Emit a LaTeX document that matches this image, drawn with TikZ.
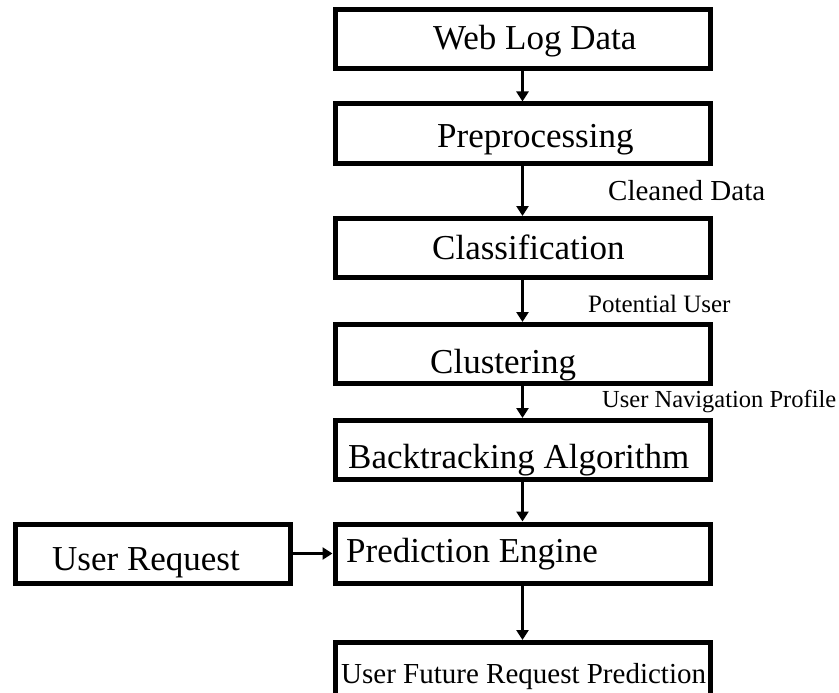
\documentclass[tikz,border=0pt]{standalone}
\usepackage{fontspec}
\setmainfont{Liberation Serif}
\usetikzlibrary{arrows.meta,positioning}

\begin{document}
\begin{tikzpicture}[x=1pt,y=-1pt,
  box/.style={draw, line width=5pt, minimum width=375pt, minimum height=59pt, inner sep=0pt},
  txt/.style={anchor=base west, inner sep=0pt, font=\fontsize{35}{40}\selectfont},
  lbl/.style={anchor=base west, inner sep=0pt, font=\fontsize{25}{28}\selectfont},
  arrow/.style={-{Triangle[length=10pt,width=12pt]}, line width=3pt}
]
  \useasboundingbox (0,0) rectangle (839,693);
  \clip (0,0) rectangle (839,693);
  % main column
  \node[box] (web) at (522.5,39) {};
  \node[box] (prep) at (522.5,133.5) {};
  \node[box] (class) at (522.5,248) {};
  \node[box] (clus) at (522.5,354) {};
  \node[box] (back) at (522.5,450) {};
  \node[box] (pred) at (522.5,553.5) {};
  \node[box] (fut) at (522.5,672) {};
  \node[box, minimum width=275pt] (req) at (152.5,553.5) {};
  % texts
  \node[txt] (webtxt) at (433,50) {Web Log Data};
  \node[txt] (preptxt) at (437,147) {Preprocessing};
  \node[txt] (classtxt) at (432,259) {Classification};
  \node[txt] (clustxt) at (430,373) {Clustering};
  \node[txt] (backtxt) at (348,468) {Backtracking Algorithm};
  \node[txt] (predtxt) at (346,562) {Prediction Engine};
  \node[txt] (reqtxt) at (52,570) {User Request};
  \node[txt, font=\fontsize{29}{32}\selectfont] (futtxt) at (341,683) {User Future Request Prediction};
  % flow labels
  \node[lbl, font=\fontsize{29}{32}\selectfont] (cleaned) at (608,200) {Cleaned Data};
  \node[lbl] (potential) at (588,312) {Potential User};
  \node[lbl, font=\fontsize{24.5}{27}\selectfont] (profile) at (602,407) {User Navigation Profile};
  % arrows
  \draw[arrow] (web.south) -- (prep.north);
  \draw[arrow] (prep.south) -- (class.north);
  \draw[arrow] (class.south) -- (clus.north);
  \draw[arrow] (clus.south) -- (back.north);
  \draw[arrow] (back.south) -- (pred.north);
  \draw[arrow] (pred.south) -- (fut.north);
  \draw[arrow] (req.east) -- (pred.west);
\end{tikzpicture}
\end{document}
